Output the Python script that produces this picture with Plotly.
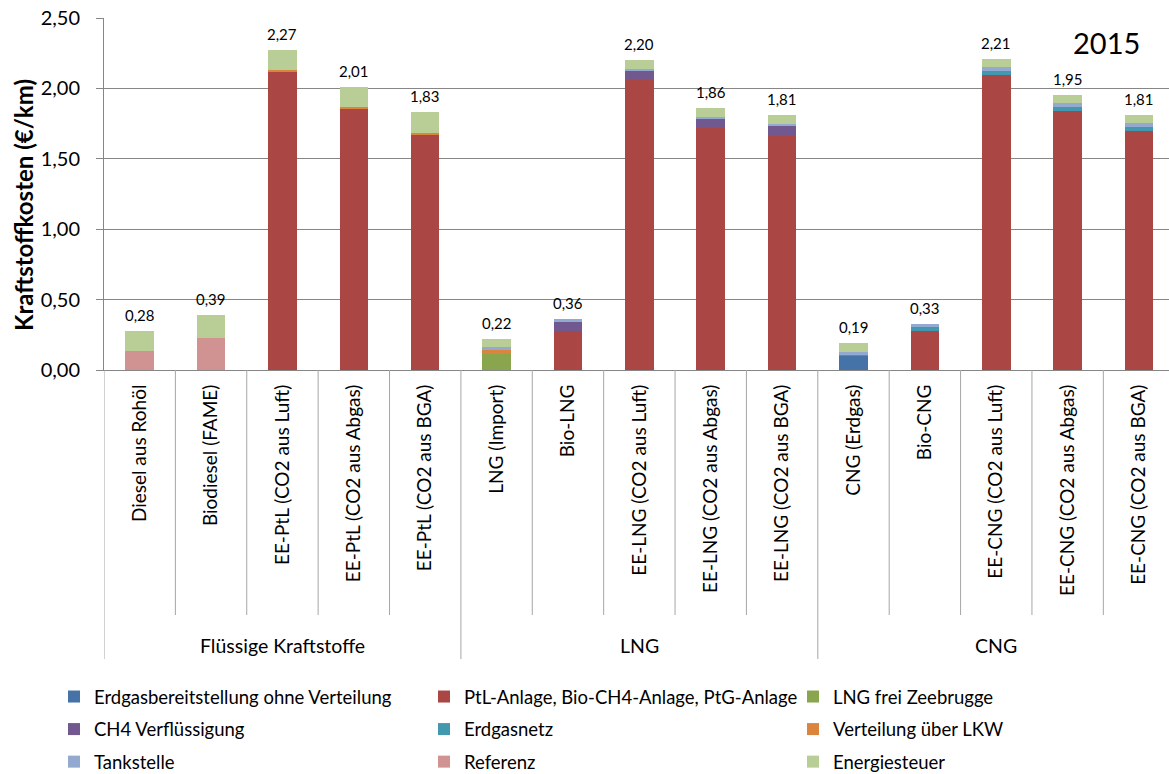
import plotly.graph_objects as go

categories = ["Diesel aus Rohöl", "Biodiesel (FAME)", "EE-PtL (CO2 aus Luft)",
              "EE-PtL (CO2 aus Abgas)", "EE-PtL (CO2 aus BGA)", "LNG (Import)",
              "Bio-LNG", "EE-LNG (CO2 aus Luft)", "EE-LNG (CO2 aus Abgas)",
              "EE-LNG (CO2 aus BGA)", "CNG (Erdgas)", "Bio-CNG",
              "EE-CNG (CO2 aus Luft)", "EE-CNG (CO2 aus Abgas)", "EE-CNG (CO2 aus BGA)"]
groups = ["Flüssige Kraftstoffe", "LNG", "CNG"]
group_sizes = [5, 5, 5]

N = None
erdgas        = [N, N, N, N, N, N, N, N, N, N, 0.10, N, N, N, N]
ptl_anlage    = [N, N, 2.12, 1.855, 1.67, N, 0.277, 2.06, 1.716, 1.664, N, 0.277, 2.097, 1.84, 1.70]
lng_frei      = [N, N, N, N, N, 0.115, N, N, N, N, N, N, N, N, N]
ch4_verfl     = [N, N, N, N, N, N, 0.063, 0.064, 0.066, 0.067, N, N, N, N, N]
erdgasnetz    = [N, N, N, N, N, N, N, N, N, N, 0.01, 0.028, 0.026, 0.028, 0.026]
verteilung    = [N, N, 0.01, 0.01, 0.01, 0.03, N, N, N, N, N, N, N, N, N]
tankstelle    = [N, N, N, N, N, 0.015, 0.02, 0.014, 0.017, 0.016, 0.02, 0.024, 0.026, 0.026, 0.026]
referenz      = [0.135, 0.23, N, N, N, N, N, N, N, N, N, N, N, N, N]
energiesteuer = [0.145, 0.16, 0.14, 0.145, 0.15, 0.06, N, 0.064, 0.061, 0.063, 0.06, N, 0.061, 0.056, 0.058]
total_labels  = ["0,28", "0,39", "2,27", "2,01", "1,83", "0,22", "0,36", "2,20", "1,86",
                 "1,81", "0,19", "0,33", "2,21", "1,95", "1,81"]

series = [
    ("Erdgasbereitstellung ohne Verteilung", erdgas, "#4572A7", "legend"),
    ("PtL-Anlage, Bio-CH4-Anlage, PtG-Anlage", ptl_anlage, "#AA4643", "legend2"),
    ("LNG frei Zeebrugge", lng_frei, "#89A54E", "legend3"),
    ("CH4 Verflüssigung", ch4_verfl, "#71588F", "legend"),
    ("Erdgasnetz", erdgasnetz, "#4198AF", "legend2"),
    ("Verteilung über LKW", verteilung, "#DB843D", "legend3"),
    ("Tankstelle", tankstelle, "#93A9CF", "legend"),
    ("Referenz", referenz, "#D19392", "legend2"),
    ("Energiesteuer", energiesteuer, "#B9CD96", "legend3"),
]

FONT = "Lato, Carlito, Calibri, sans-serif"
fig = go.Figure()
for i, (name, vals, col, lg) in enumerate(series):
    fig.add_trace(go.Bar(x=list(range(len(categories))), y=vals, name=name,
                         marker=dict(color=col, line=dict(width=0)),
                         legend=lg, legendgroup=name))

totals = [sum(v[i] for _, v, _, _ in series if v[i] is not None) for i in range(len(categories))]

W, H = 1169, 774
L, R, T, B = 104, 0, 18, 404
ph = H - T - B
pw = W - L - R
CAT_PX = 71.4

def py(pix):
    return (H - B - pix) / ph

def px(pix):
    return (pix - L) / pw

annotations = []
for i, (t, lab) in enumerate(zip(totals, total_labels)):
    annotations.append(dict(x=i, y=t, xref="x", yref="y", text=lab, showarrow=False,
                            yanchor="bottom", yshift=5,
                            font=dict(family=FONT, size=15, color="#000")))

shapes = []
bounds = []
acc = 0
for s in group_sizes:
    acc += s
    bounds.append(acc)
for k in range(1, len(categories)):
    is_group = k in bounds
    shapes.append(dict(type="line", xref="x", yref="paper", x0=k - 0.5, x1=k - 0.5,
                       y0=0, y1=py(659 if is_group else 615),
                       line=dict(color="#A6A6A6", width=1)))
shapes.append(dict(type="line", xref="x", yref="paper", x0=-0.5, x1=-0.5,
                   y0=0, y1=py(659), line=dict(color="#A6A6A6", width=1)))

start = 0
for g, s in zip(groups, group_sizes):
    annotations.append(dict(x=start + (s - 1) / 2, y=py(645), xref="x", yref="paper",
                            text=g, showarrow=False, font=dict(family=FONT, size=19.5, color="#000"),
                            yanchor="middle"))
    start += s
annotations.append(dict(x=(1107 - L) / CAT_PX - 0.5, y=py(42), xref="x", yref="paper", text="2015",
                        showarrow=False, font=dict(family=FONT, size=29, color="#000"),
                        xanchor="center", yanchor="middle"))
annotations.append(dict(x=px(23), y=py(205), xref="paper", yref="paper",
                        text="<b>Kraftstoffkosten (€/km)</b>", textangle=-90, showarrow=False,
                        font=dict(family=FONT, size=24, color="#000"),
                        xanchor="center", yanchor="middle"))

leg_common = dict(orientation="v", yanchor="top", xanchor="left",
                  font=dict(family=FONT, size=18.5, color="#000"),
                  bgcolor="rgba(0,0,0,0)", tracegroupgap=5.5, itemwidth=30,
                  traceorder="grouped")
fig.update_layout(
    width=W, height=H,
    margin=dict(l=L, r=R, t=T, b=B, autoexpand=False),
    paper_bgcolor="white", plot_bgcolor="white",
    barmode="stack", bargap=0.6,
    separators=", ",
    font=dict(family=FONT, color="#000"),
    xaxis=dict(range=[-0.5, 14.42], tickmode="array", tickvals=list(range(len(categories))),
               ticktext=categories, tickangle=-90, tickfont=dict(family=FONT, size=19),
               ticklabelstandoff=6,
               showline=True, linecolor="#868686", linewidth=1, ticks="",
               showgrid=False, zeroline=False, automargin=False),
    yaxis=dict(range=[0, 2.5], dtick=0.5, tickformat=".2f", tickfont=dict(family=FONT, size=20),
               ticklabelstandoff=12,
               showline=True, linecolor="#868686", linewidth=1, ticks="outside",
               ticklen=7, tickcolor="#868686", gridcolor="#868686", gridwidth=1,
               zeroline=False, automargin=False),
    legend=dict(x=px(54), y=py(678), **leg_common),
    legend2=dict(x=px(424), y=py(678), **leg_common),
    legend3=dict(x=px(793), y=py(678), **leg_common),
    shapes=shapes, annotations=annotations,
)
fig.write_html("out.html")
